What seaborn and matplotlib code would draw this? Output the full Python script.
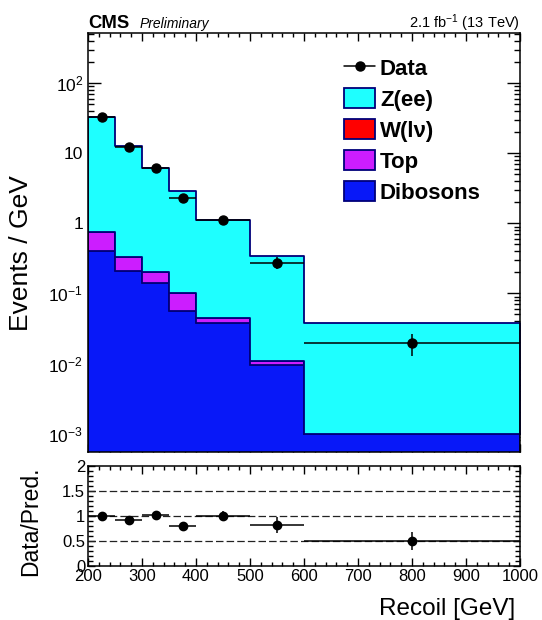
import numpy as np
import pandas as pd
import matplotlib
matplotlib.use("Agg")
import matplotlib.pyplot as plt
import seaborn as sns
from matplotlib.ticker import LogLocator, MultipleLocator, FuncFormatter, NullFormatter, FixedLocator
from matplotlib.lines import Line2D
from matplotlib.patches import Patch

# ---------------- data ----------------
bin_edges = [200, 250, 300, 350, 400, 500, 600, 1000]
processes = ["Z(ee)", "W(lν)", "Top", "Dibosons"]
z_ee     = [31.96, 12.47, 5.90, 2.79, 1.065, 0.327, 0.0368]
w_lnu    = [0.004, 0.002, 0.001, 0.0005, 0.0003, 0.0001, 0.00001]
top      = [0.34, 0.121, 0.058, 0.044, 0.0068, 0.0012, 0.00002]
dibosons = [0.40, 0.206, 0.142, 0.056, 0.0378, 0.0096, 0.00097]

data_vals   = [33.3, 12.4, 6.22, 2.30, 1.11, 0.275, 0.0193]
data_err_lo = [0.8, 0.5, 0.35, 0.21, 0.105, 0.05, 0.0064]
data_err_hi = [0.8, 0.5, 0.35, 0.21, 0.105, 0.06, 0.0070]

ratio_vals = [1.01, 0.93, 1.03, 0.80, 1.00, 0.83, 0.50]
ratio_err  = [0.03, 0.04, 0.06, 0.07, 0.10, 0.16, 0.18]

colors = {"Z(ee)": "#1effff", "W(lν)": "#ff0000", "Top": "#cc1dff", "Dibosons": "#0818f8"}
edge_col = "#00007a"

# ---------------- style ----------------
sns.set_theme(style="ticks")
plt.rcParams['font.family'] = ['Liberation Sans', 'DejaVu Sans']
plt.rcParams['mathtext.fontset'] = 'custom'
plt.rcParams['mathtext.rm'] = 'Liberation Sans'
plt.rcParams['mathtext.it'] = 'Liberation Sans:italic'
plt.rcParams['mathtext.bf'] = 'Liberation Sans:bold'
for k in ["text.color", "axes.labelcolor", "xtick.color", "ytick.color", "axes.edgecolor"]:
    plt.rcParams[k] = "black"

W, H = 542, 620
fig = plt.figure(figsize=(W / 100, H / 100), dpi=100)
ax = fig.add_axes([88 / W, 1 - 452 / H, 432 / W, 419 / H])
ax2 = fig.add_axes([88 / W, 1 - 566 / H, 432 / W, 100 / H])

edges = np.array(bin_edges, dtype=float)
centers = 0.5 * (edges[:-1] + edges[1:])
halfw = 0.5 * (edges[1:] - edges[:-1])

series = {"Z(ee)": z_ee, "W(lν)": w_lnu, "Top": top, "Dibosons": dibosons}
rows = []
for p in processes:
    for c, v in zip(centers, series[p]):
        rows.append({"recoil": c, "value": v, "process": p})
df = pd.DataFrame(rows)

sns.histplot(data=df, x="recoil", weights="value", hue="process", hue_order=processes,
             multiple="stack", bins=bin_edges, element="step", fill=True, alpha=1,
             palette=colors, edgecolor=edge_col, linewidth=1.3, legend=False, ax=ax)

ax.set_yscale("log")
ax.errorbar(centers, data_vals, xerr=halfw, yerr=[data_err_lo, data_err_hi],
            fmt="o", color="black", ms=6.5, lw=1.1, capsize=0, zorder=10)

ax.set_xlim(200, 1000)
ax.set_ylim(5.45e-4, 520)
ax.set_xlabel("")
ax.set_ylabel("")

def log_fmt(v, pos):
    e = int(round(np.log10(v)))
    if e == 0:
        return "1"
    if e == 1:
        return "10"
    return r"$10^{%d}$" % e

ax.yaxis.set_major_locator(LogLocator(base=10, numticks=20))
ax.yaxis.set_minor_locator(LogLocator(base=10, subs=np.arange(2, 10), numticks=20))
ax.yaxis.set_major_formatter(FuncFormatter(log_fmt))
ax.yaxis.set_minor_formatter(NullFormatter())
ax.xaxis.set_major_locator(MultipleLocator(100))
ax.xaxis.set_minor_locator(MultipleLocator(20))
ax.tick_params(axis="both", which="both", direction="in", top=True, right=True,
               labelbottom=False, labelsize=12.5, colors="black", width=1.0)
ax.tick_params(axis="y", which="major", length=9.5)
ax.tick_params(axis="y", which="minor", length=4.5)
ax.tick_params(axis="x", which="major", length=6)
ax.tick_params(axis="x", which="minor", length=3)
for s in ax.spines.values():
    s.set_linewidth(1.1)
    s.set_color("black")

# legend
handles = [Line2D([], [], color="black", marker="o", ms=6.5, lw=1.1)]
for p in processes:
    handles.append(Patch(facecolor=colors[p], edgecolor=edge_col, linewidth=1.3))
labels = ["Data"] + processes
leg = ax.legend(handles, labels, loc="upper left", bbox_to_anchor=(0.572, 0.963),
                frameon=False, prop={"weight": "bold", "size": 16},
                handlelength=1.4, handleheight=1.0, labelspacing=0.38,
                handletextpad=0.22, borderaxespad=0)
for t in leg.get_texts():
    t.set_color("black")

# ---------------- ratio ----------------
for yv in [0.5, 1.0, 1.5]:
    ax2.axhline(yv, color="#222222", lw=0.9, ls=(0, (6, 2.5)), zorder=1)
ax2.errorbar(centers, ratio_vals, xerr=halfw, yerr=ratio_err, fmt="o", color="black",
             ms=6, lw=1.1, capsize=0, zorder=5)
ax2.set_xlim(200, 1000)
ax2.set_ylim(0, 2)
ax2.set_xlabel("")
ax2.set_ylabel("")
ax2.xaxis.set_major_locator(MultipleLocator(100))
ax2.xaxis.set_minor_locator(MultipleLocator(20))
ax2.yaxis.set_major_locator(FixedLocator([0, 0.5, 1, 1.5, 2]))
ax2.yaxis.set_minor_locator(MultipleLocator(0.1))
ax2.yaxis.set_major_formatter(FuncFormatter(lambda v, p: ("%g" % v)))
ax2.tick_params(axis="both", which="both", direction="in", top=True, right=True,
                labelsize=12, colors="black", width=1.0, pad=2)
ax2.tick_params(axis="y", which="major", length=5)
ax2.tick_params(axis="y", which="minor", length=3.5)
ax2.tick_params(axis="x", which="major", length=6)
ax2.tick_params(axis="x", which="minor", length=3)
for s in ax2.spines.values():
    s.set_linewidth(1.1)
    s.set_color("black")

# ---------------- texts ----------------
fig.text(88 / W, 1 - 28 / H, "CMS", fontsize=13.3, fontweight="bold", ha="left", va="baseline")
fig.text(140 / W, 1 - 28 / H, "Preliminary", fontsize=10, fontstyle="italic", ha="left", va="baseline")
fig.text(520 / W, 1 - 28 / H, r"2.1 fb$^{-1}$ (13 TeV)", fontsize=10.5, ha="right", va="baseline")
fig.text(21 / W, 1 - 253 / H, "Events / GeV", fontsize=19, rotation=90, ha="center", va="center")
fig.text(31 / W, 1 - 521 / H, "Data/Pred.", fontsize=16.5, rotation=90, ha="center", va="center")
fig.text(515 / W, 1 - 615 / H, "Recoil [GeV]", fontsize=17.5, ha="right", va="baseline")

fig.savefig("out.png", dpi=100)
